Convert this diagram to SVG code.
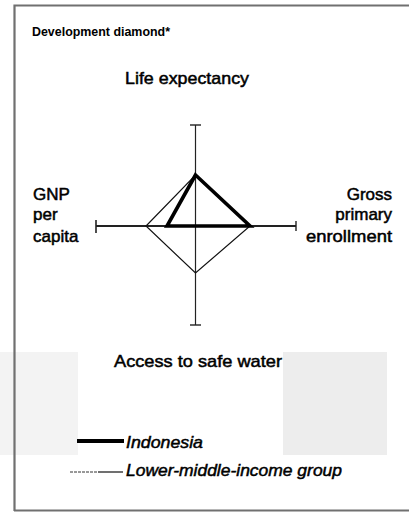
<svg xmlns="http://www.w3.org/2000/svg" width="409" height="513" viewBox="0 0 409 513">
<style>
text{font-family:"Liberation Sans",Arial,sans-serif;fill:#000}
.lbl{font-size:17px;stroke:#000;stroke-width:0.5}
.leg{font-size:17px;font-style:italic;stroke:#000;stroke-width:0.5}
.axis{stroke:#222;fill:none}
.thin{stroke:#111;stroke-width:1.2;fill:none;stroke-linejoin:miter}
.thick{stroke:#000;stroke-width:3.6;fill:none;stroke-linejoin:miter}
</style>
<rect width="409" height="513" fill="#fff"/>
<g id="background-patches">
<rect x="0" y="352" width="78" height="103" fill="#f3f3f3"/>
<rect x="283" y="352" width="104" height="103" fill="#ededed"/>
</g>
<g id="frame">
<path d="M14.5 511 V5.5 H409" fill="none" stroke="#707070" stroke-width="2.2"/>
<path d="M14 510.5 H409" fill="none" stroke="#707070" stroke-width="2.2"/>
</g>
<g id="title"><text x="32" y="36" font-size="12.5" font-weight="bold" textLength="138" lengthAdjust="spacingAndGlyphs">Development diamond*</text></g>
<g id="axes">
<line class="axis" x1="96" y1="226" x2="296" y2="226" stroke-width="2"/>
<line class="axis" x1="96" y1="220" x2="96" y2="233" stroke-width="1.6"/>
<line class="axis" x1="296" y1="221" x2="296" y2="231" stroke-width="1.4"/>
<line class="axis" x1="195.5" y1="125" x2="195.5" y2="325" stroke-width="1.2"/>
<line class="axis" x1="190" y1="125" x2="201" y2="125" stroke-width="1.4"/>
<line class="axis" x1="190" y1="325" x2="201" y2="325" stroke-width="1.4"/>
</g>
<g id="connectors">
<polygon id="lower-middle-income" class="thin" points="195.5,175 250,226 195.5,273 146,226"/>
<polygon id="indonesia" class="thick" points="195.5,175 250,226 167,226"/>
</g>
<g id="node-life"><text class="lbl" x="125" y="84" textLength="124" lengthAdjust="spacingAndGlyphs">Life expectancy</text></g>
<g id="node-gnp">
<text class="lbl" x="33" y="200">GNP</text>
<text class="lbl" x="33" y="220">per</text>
<text class="lbl" x="33" y="242">capita</text>
</g>
<g id="node-enrollment">
<text class="lbl" x="392" y="200" text-anchor="end">Gross</text>
<text class="lbl" x="392" y="220" text-anchor="end">primary</text>
<text class="lbl" x="392" y="242" text-anchor="end" textLength="86" lengthAdjust="spacingAndGlyphs">enrollment</text>
</g>
<g id="node-water"><text class="lbl" x="114" y="367" textLength="168" lengthAdjust="spacingAndGlyphs">Access to safe water</text></g>
<g id="legend">
<line x1="77" y1="441" x2="124" y2="441" stroke="#000" stroke-width="4"/>
<text class="leg" x="126" y="448" textLength="77" lengthAdjust="spacingAndGlyphs">Indonesia</text>
<line x1="70" y1="472" x2="98" y2="472" stroke="#333" stroke-width="1" stroke-dasharray="3 1"/>
<line x1="98" y1="472" x2="123" y2="472" stroke="#111" stroke-width="1.2"/>
<text class="leg" x="126" y="476" textLength="216" lengthAdjust="spacingAndGlyphs">Lower-middle-income group</text>
</g>
</svg>
